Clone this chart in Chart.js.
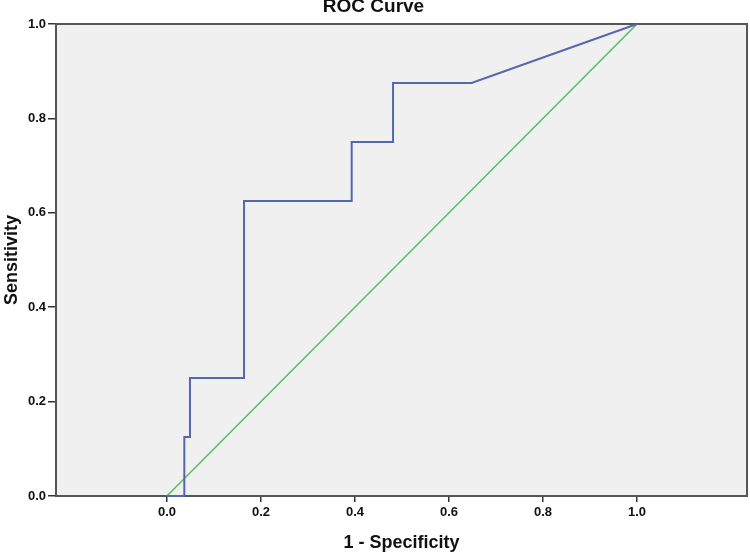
<!DOCTYPE html>
<html>
<head>
<meta charset="utf-8">
<script src="https://cdn.jsdelivr.net/npm/chart.js@4/dist/chart.umd.min.js"></script>
<style>
  html, body { margin: 0; padding: 0; background: #fff; }
</style>
</head>
<body>
<canvas id="roc" width="750" height="554"></canvas>
<script>
// ROC curve
const rocX = [0, 0.037, 0.037, 0.049, 0.049, 0.164, 0.164, 0.393, 0.393, 0.481, 0.481, 0.648, 1];
const rocY = [0, 0, 0.125, 0.125, 0.25, 0.25, 0.625, 0.625, 0.75, 0.75, 0.875, 0.875, 1];
// reference diagonal
const refX = [0, 1];
const refY = [0, 1];
const xTicks = [0, 0.2, 0.4, 0.6, 0.8, 1.0];
const yTicks = [0, 0.2, 0.4, 0.6, 0.8, 1.0];

const FONT = "'Liberation Sans', Arial, sans-serif";

function toPoints(xs, ys) {
  return xs.map((x, i) => ({ x, y: ys[i] }));
}

const framePlugin = {
  id: 'frame',
  beforeDraw(chart) {
    const { ctx, chartArea: a } = chart;
    ctx.save();
    ctx.fillStyle = '#f0f0f0';
    ctx.fillRect(a.left, a.top, a.right - a.left, a.bottom - a.top);
    ctx.restore();
  },
  beforeDatasetsDraw(chart) {
    const { ctx, chartArea: a } = chart;
    ctx.save();
    ctx.strokeStyle = '#555';
    ctx.lineWidth = 2;
    ctx.strokeRect(a.left, a.top, a.right - a.left, a.bottom - a.top);
    ctx.restore();
  },
};

const tickFont = { family: FONT, size: 13, weight: 'bold' };
const axisTitleFont = { family: FONT, size: 18, weight: 'bold' };

new Chart(document.getElementById('roc'), {
  type: 'scatter',
  data: {
    datasets: [
      {
        label: 'ROC',
        data: toPoints(rocX, rocY),
        showLine: true,
        borderColor: '#5567ad',
        borderWidth: 2,
        pointRadius: 0,
        tension: 0,
        clip: 4,
      },
      {
        label: 'Reference',
        data: toPoints(refX, refY),
        showLine: true,
        borderColor: '#5cbf62',
        borderWidth: 1.6,
        pointRadius: 0,
        clip: 4,
      },
    ],
  },
  options: {
    responsive: false,
    animation: false,
    layout: { padding: { top: -5, right: 3, left: 0, bottom: 0 } },
    plugins: {
      legend: { display: false },
      tooltip: { enabled: false },
      title: {
        display: true,
        text: 'ROC Curve',
        color: '#111',
        font: { family: FONT, size: 19, weight: 'bold' },
        padding: { top: 0, bottom: 6.2 },
      },
    },
    scales: {
      x: {
        type: 'linear',
        min: -0.236,
        max: 1.234,
        border: { display: false },
        grid: { drawOnChartArea: false, drawTicks: true, tickLength: 6, color: '#333', lineWidth: 1.5 },
        afterBuildTicks: (s) => { s.ticks = xTicks.map((v) => ({ value: v })); },
        afterFit: (s) => { s.height = 58; },
        ticks: {
          color: '#111',
          font: tickFont,
          padding: 3,
          maxRotation: 0,
          callback: (v) => Number(v).toFixed(1),
        },
        title: {
          display: true,
          text: '1 - Specificity',
          color: '#111',
          font: axisTitleFont,
          padding: { top: 0, bottom: 0 },
        },
      },
      y: {
        type: 'linear',
        min: 0,
        max: 1,
        border: { display: false },
        grid: { drawOnChartArea: false, drawTicks: true, tickLength: 8, color: '#333', lineWidth: 1.5 },
        afterBuildTicks: (s) => { s.ticks = yTicks.map((v) => ({ value: v })); },
        afterFit: (s) => { s.width = 56; },
        ticks: {
          color: '#111',
          font: tickFont,
          padding: 2,
          callback: (v) => Number(v).toFixed(1),
        },
        title: {
          display: true,
          text: 'Sensitivity',
          color: '#111',
          font: axisTitleFont,
          padding: { top: 1, bottom: 0 },
        },
      },
    },
  },
  plugins: [framePlugin],
});
</script>
</body>
</html>
